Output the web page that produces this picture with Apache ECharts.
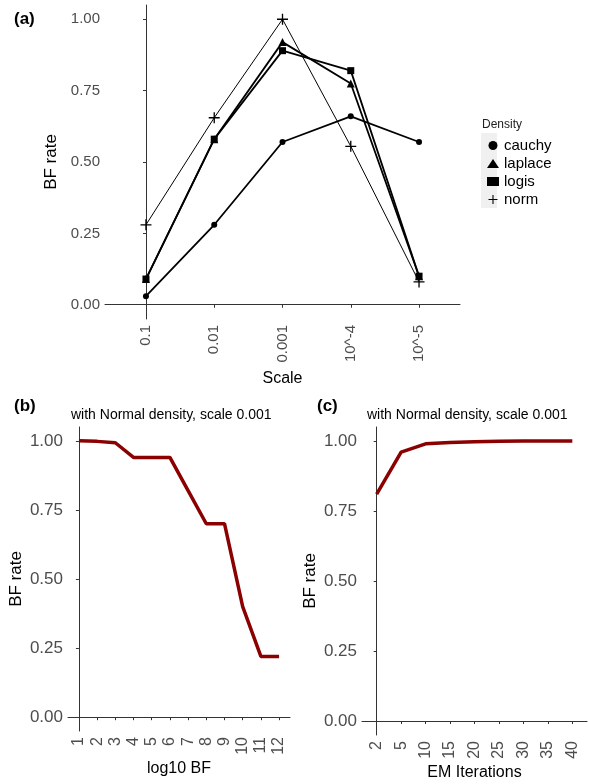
<!DOCTYPE html>
<html>
<head>
<meta charset="utf-8">
<script src="https://cdn.jsdelivr.net/npm/echarts@6/dist/echarts.min.js"></script>
<style>
  html, body { margin: 0; padding: 0; background: #fff; }
  #chart { width: 589px; height: 784px; }
</style>
</head>
<body>
<div id="chart"></div>
<script>
// panel (a)
const scaleLabels = ["0.1", "0.01", "0.001", "10^-4", "10^-5"];
const cauchy = [0.03, 0.28, 0.57, 0.66, 0.57];
const laplace = [0.09, 0.58, 0.92, 0.775, 0.10];
const logis = [0.09, 0.58, 0.89, 0.82, 0.10];
const norm = [0.28, 0.655, 1.0, 0.555, 0.08];

// panel (b)
const bfLabels = ["1", "2", "3", "4", "5", "6", "7", "8", "9", "10", "11", "12"];
const bfRate = [1.0, 0.998, 0.993, 0.94, 0.94, 0.94, 0.82, 0.70, 0.70, 0.40, 0.22, 0.22];

// panel (c)
const emLabels = ["2", "5", "10", "15", "20", "25", "30", "35", "40"];
const emRate = [0.81, 0.96, 0.99, 0.995, 0.997, 0.999, 1.0, 1.0, 1.0];

const yTicks = [0, 0.25, 0.5, 0.75, 1];
const font = "Liberation Sans, Arial, sans-serif";
const plusPath = "path://M4.4,0H5.6V10H4.4ZM0,4.4H10V5.6H0Z";

const withIdx = (arr) => arr.map((v, i) => [i, v]);
const idxTicks = (arr) => arr.map((_, i) => i);

function xAxisFor(labels, gridIndex, name, nameGap, fontSize) {
  return {
    type: "value",
    gridIndex: gridIndex,
    min: -0.6,
    max: labels.length - 1 + 0.6,
    name: name,
    nameLocation: "middle",
    nameGap: nameGap,
    nameTextStyle: { fontFamily: font, fontSize: 16, color: "#000" },
    axisLine: { show: true, lineStyle: { color: "#333", width: 1 } },
    axisTick: { show: true, length: 3, customValues: idxTicks(labels), lineStyle: { color: "#333" } },
    axisLabel: {
      customValues: idxTicks(labels),
      rotate: 90,
      margin: 6,
      fontFamily: font,
      fontSize: fontSize,
      color: "#4d4d4d",
      formatter: (v) => labels[Math.round(v)],
    },
    splitLine: { show: false },
  };
}

function yAxisFor(gridIndex, nameGap, fontSize) {
  return {
    type: "value",
    gridIndex: gridIndex,
    min: -0.05,
    max: 1.05,
    name: "BF rate",
    nameLocation: "middle",
    nameGap: nameGap,
    nameTextStyle: { fontFamily: font, fontSize: 17, color: "#000" },
    axisLine: { show: true, lineStyle: { color: "#333", width: 1 } },
    axisTick: { show: true, length: 3, customValues: yTicks, lineStyle: { color: "#333" } },
    axisLabel: {
      customValues: yTicks,
      margin: 5,
      fontFamily: font,
      fontSize: fontSize,
      color: "#4d4d4d",
      formatter: (v) => v.toFixed(2),
    },
    splitLine: { show: false },
  };
}

function densitySeries(name, data, symbol, size, width) {
  return {
    name: name,
    type: "line",
    xAxisIndex: 0,
    yAxisIndex: 0,
    data: withIdx(data),
    symbol: symbol,
    symbolSize: size,
    showSymbol: true,
    color: "#000",
    lineStyle: { color: "#000", width: width },
    itemStyle: { color: "#000" },
    emphasis: { disabled: true },
    animation: false,
  };
}

const chart = echarts.init(document.getElementById("chart"));
chart.setOption({
  backgroundColor: "#fff",
  animation: false,
  title: [
    { text: "(a)", left: 9, top: 6, textStyle: { fontFamily: font, fontSize: 17, fontWeight: "bold", color: "#000" } },
    { text: "(b)", left: 9, top: 393, textStyle: { fontFamily: font, fontSize: 17, fontWeight: "bold", color: "#000" } },
    { text: "(c)", left: 312, top: 393, textStyle: { fontFamily: font, fontSize: 17, fontWeight: "bold", color: "#000" } },
    { text: "with Normal density, scale 0.001", left: 66, top: 403, textStyle: { fontFamily: font, fontSize: 14, fontWeight: "normal", color: "#000" } },
    { text: "with Normal density, scale 0.001", left: 362, top: 403, textStyle: { fontFamily: font, fontSize: 14, fontWeight: "normal", color: "#000" } },
    { text: "Density", left: 477, top: 114, textStyle: { fontFamily: font, fontSize: 12, fontWeight: "normal", color: "#222" } },
  ],
  graphic: [
    { type: "rect", shape: { x: 481, y: 133, width: 16, height: 75 }, style: { fill: "#f0f0f0" }, z: 0 },
  ],
  legend: {
    orient: "vertical",
    left: 482,
    top: 133,
    itemWidth: 12,
    itemHeight: 9,
    itemGap: 3,
    textStyle: { fontFamily: font, fontSize: 15, color: "#000", padding: [0, 0, 0, 0] },
    data: [
      { name: "cauchy", icon: "circle" },
      { name: "laplace", icon: "triangle" },
      { name: "logis", icon: "rect" },
      { name: "norm", icon: plusPath },
    ],
  },
  grid: [
    { left: 105, top: 5, width: 355, height: 314 },
    { left: 68, top: 427, width: 222, height: 304 },
    { left: 362, top: 427, width: 225, height: 308 },
  ],
  xAxis: [
    xAxisFor(scaleLabels, 0, "Scale", 52, 15),
    xAxisFor(bfLabels, 1, "log10 BF", 30, 16),
    xAxisFor(emLabels, 2, "EM Iterations", 30, 16),
  ],
  yAxis: [
    yAxisFor(0, 37, 15),
    yAxisFor(1, 43, 17),
    yAxisFor(2, 43, 17),
  ],
  series: [
    densitySeries("cauchy", cauchy, "circle", 6, 1.8),
    densitySeries("laplace", laplace, "triangle", 8, 1.8),
    densitySeries("logis", logis, "rect", 7, 1.8),
    densitySeries("norm", norm, plusPath, 11, 1),
    {
      name: "bf",
      type: "line",
      xAxisIndex: 1,
      yAxisIndex: 1,
      data: withIdx(bfRate),
      showSymbol: false,
      symbol: "none",
      lineStyle: { color: "#8b0000", width: 3.5 },
      emphasis: { disabled: true },
    },
    {
      name: "em",
      type: "line",
      xAxisIndex: 2,
      yAxisIndex: 2,
      data: withIdx(emRate),
      showSymbol: false,
      symbol: "none",
      lineStyle: { color: "#8b0000", width: 3.5 },
      emphasis: { disabled: true },
    },
  ],
});
</script>
</body>
</html>
